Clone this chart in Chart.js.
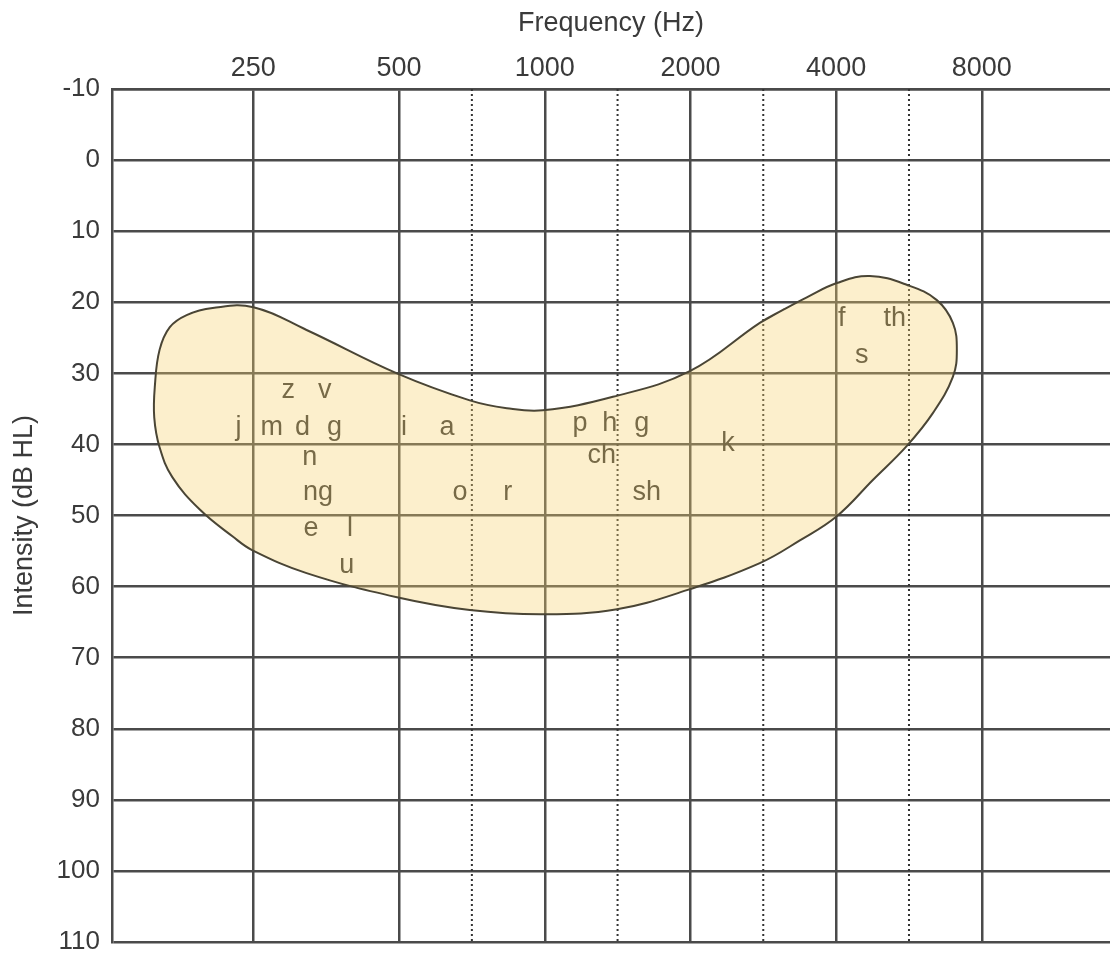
<!DOCTYPE html>
<html>
<head>
<meta charset="utf-8">
<script src="https://cdn.jsdelivr.net/npm/chart.js@4/dist/chart.umd.min.js"></script>
<style>
html,body{margin:0;padding:0;background:#fff;overflow:hidden}
canvas{display:block}
</style>
</head>
<body>
<canvas id="c" width="1110" height="959"></canvas>
<script>
// ---- data ----
const freqTicks = [250, 500, 1000, 2000, 4000, 8000];
const halfOctaveLines = [707, 1414, 2828, 5657];   // dotted lines (750/1500/3000/6000 audiometric positions)
const dbTicks = [-10, 0, 10, 20, 30, 40, 50, 60, 70, 80, 90, 100, 110];
const freqRange = [127.6, 14720];
const xTitle = 'Frequency (Hz)';
const yTitle = 'Intensity (dB HL)';

const phonemes    = ['z','v','j','m','d','g','i','a','n','ng','o','r','e','l','u','p','h','g','ch','sh','k','f','th','s'];
const phonemeFreq = [295,351,233,273,316,368,512,628,327,340,668,839,329,396,390,1182,1363,1587,1312,1625,2390,4110,5288,4520];
const phonemeDb   = [32.4,32.4,37.6,37.6,37.6,37.6,37.6,37.6,41.9,46.8,46.8,46.8,51.8,51.8,57.1,37.1,37.1,37.1,41.6,46.8,39.9,22.3,22.3,27.5];

// speech banana outline (closed; first two points repeated at the end)
const bananaFreq = [2782,3119,3479,4013,4695,5626,6458,6970,7103,6970,6337,5600,4763,4013,3366,2782,1966,1410,991,700,495,322,249,227,194,170,160,156,156.5,160,168,182,206,250,322,495,700,835,991,1383,1994,2782,3119];
const bananaDb   = [22.9,21.0,19.3,17.3,16.3,17.6,19.7,22.9,26.7,30.5,35.6,40.2,45.0,50.1,53.5,56.7,60.5,63.2,63.9,63.3,61.5,58.1,54.9,53.0,49.2,44.6,40.4,36.2,31.7,26.7,23.5,21.8,20.8,20.7,23.9,30.0,33.8,34.9,35.2,33.3,29.7,22.9,21.0];

// ---- chart ----
const FONT = '"Liberation Sans", Arial, sans-serif';
const TEXT = '#3a3a3a';
const GRID = '#4a4a4a';

const phonemeLabels = {
  id: 'phonemeLabels',
  beforeDatasetsDraw(chart) {
    const {ctx, scales: {x, y}} = chart;
    ctx.save();
    ctx.font = '27px ' + FONT;
    ctx.fillStyle = '#333';
    ctx.textAlign = 'center';
    ctx.textBaseline = 'middle';
    phonemes.forEach((t, i) => {
      ctx.fillText(t, x.getPixelForValue(phonemeFreq[i]), y.getPixelForValue(phonemeDb[i]));
    });
    ctx.restore();
  }
};

const datasets = [
  {
    label: 'speech banana',
    data: bananaFreq.map((f, i) => ({x: f, y: bananaDb[i]})),
    borderColor: '#4a4535',
    borderWidth: 2,
    backgroundColor: 'rgba(247,210,110,0.35)',
    fill: 'shape',
    tension: 0.4,
    pointRadius: 0,
    order: 0
  },
  ...halfOctaveLines.map(f => ({
    label: String(f),
    data: [{x: f, y: dbTicks[0]}, {x: f, y: dbTicks[dbTicks.length - 1]}],
    borderColor: '#333',
    borderWidth: 2,
    borderDash: [2, 3],
    fill: false,
    tension: 0,
    pointRadius: 0,
    order: 1
  }))
];

new Chart(document.getElementById('c'), {
  type: 'line',
  data: {datasets},
  plugins: [phonemeLabels],
  options: {
    responsive: false,
    animation: false,
    devicePixelRatio: 1,
    layout: {autoPadding: false, padding: {top: 0, left: 0, right: 0, bottom: 17}},
    plugins: {legend: {display: false}, tooltip: {enabled: false}},
    scales: {
      x: {
        type: 'logarithmic',
        position: 'top',
        min: freqRange[0],
        max: freqRange[1],
        bounds: 'data',
        afterBuildTicks: s => { s.ticks = freqTicks.map(v => ({value: v})); },
        afterFit: s => { s.height = 89; },
        ticks: {
          autoSkip: false, maxRotation: 0, padding: 4,
          callback: v => String(v),
          font: {family: FONT, size: 27}, color: TEXT
        },
        grid: {color: GRID, lineWidth: 2.5, drawTicks: false},
        border: {color: GRID, width: 2.5},
        title: {display: true, text: xTitle, font: {family: FONT, size: 27}, color: TEXT, padding: {top: 7, bottom: 0}}
      },
      y: {
        type: 'linear',
        reverse: true,
        min: dbTicks[0],
        max: dbTicks[dbTicks.length - 1],
        afterBuildTicks: s => { s.ticks = dbTicks.map(v => ({value: v})); },
        afterFit: s => { s.width = 112; },
        ticks: {padding: 0, font: {family: FONT, size: 26}, color: TEXT},
        grid: {color: GRID, lineWidth: 2.5, drawTicks: true, tickLength: 12, tickColor: 'rgba(0,0,0,0)'},
        border: {color: GRID, width: 2.5},
        title: {display: true, text: yTitle, font: {family: FONT, size: 27}, color: TEXT, padding: {top: 8, bottom: 0}}
      }
    }
  }
});
</script>
</body>
</html>
